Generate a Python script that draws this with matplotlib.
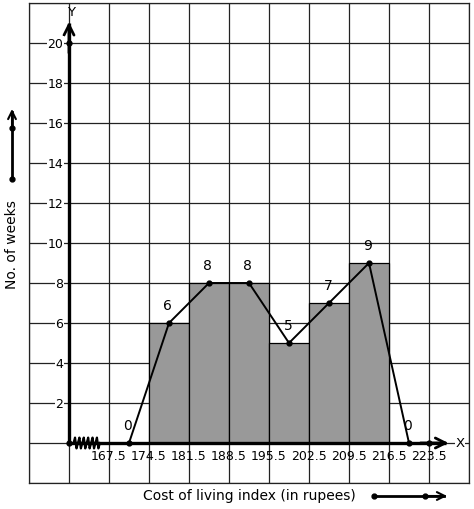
import matplotlib
matplotlib.use("Agg")
import matplotlib.pyplot as plt
import numpy as np

# class boundaries (rupees) and no. of weeks
bornes = [174.5, 181.5, 188.5, 195.5, 202.5, 209.5, 216.5]
semaines = [6, 8, 8, 5, 7, 9]

# frequency polygon, with the two empty classes at each end
milieux = [171, 178, 185, 192, 199, 206, 213, 220]
poly_y = [0, 6, 8, 8, 5, 7, 9, 0]

xtick_vals = [167.5, 174.5, 181.5, 188.5, 195.5, 202.5, 209.5, 216.5, 223.5]
xtick_labels = ["167.5", "174.5", "181.5", "188.5", "195.5", "202.5", "209.5", "216.5", "223.5"]
ytick_vals = [2, 4, 6, 8, 10, 12, 14, 16, 18, 20]

x0 = 160.5   # where the Y axis sits
pas = 7

fig = plt.figure(figsize=(4.74, 5.10), dpi=100)
ax = fig.add_axes([29 / 474, 26 / 510, 440 / 474, 480 / 510])
ax.set_xlim(x0 - pas, x0 + 10 * pas)
ax.set_ylim(-2, 22)

# grid
ax.set_xticks(np.arange(x0 - pas, x0 + 10.5 * pas, pas))
ax.set_yticks(np.arange(-2, 23, 2))
ax.grid(True, color="#222222", linewidth=0.9)
ax.tick_params(length=0, labelbottom=False, labelleft=False)
ax.set_axisbelow(True)
for s in ax.spines.values():
    s.set_color("#222222")
    s.set_linewidth(0.9)

# histogram
largeurs = np.diff(bornes)
ax.bar(bornes[:-1], semaines, width=largeurs, align="edge", color="#999999",
       edgecolor="black", linewidth=0.9, zorder=2)

# axes with arrows
ax.plot([x0, x0], [0, 21.0], color="black", lw=2.4, zorder=4, solid_capstyle="butt")
ax.plot([x0, 226.5], [0, 0], color="black", lw=2.4, zorder=4, solid_capstyle="butt")
ax.annotate("", xy=(x0, 21.05), xytext=(x0, 19.5),
            arrowprops=dict(arrowstyle="->", lw=2, color="black",
                            mutation_scale=18, shrinkA=0, shrinkB=0), zorder=4)
ax.annotate("", xy=(226.9, 0), xytext=(222, 0),
            arrowprops=dict(arrowstyle="->", lw=2, color="black",
                            mutation_scale=18, shrinkA=0, shrinkB=0), zorder=4)
ax.text(x0 + 0.3, 21.6, "Y", fontsize=9.5, ha="center", va="center")
ax.text(228.9, 0, "X", fontsize=9.5, ha="center", va="center",
        bbox=dict(facecolor="white", edgecolor="none", pad=0.5), zorder=6)
ax.plot([x0, x0, 223.5], [20, 0, 0], "o", color="black", markersize=3.5, zorder=5)

# kink on the x axis
zx = np.linspace(161.3, 165.9, 19)
zy = np.array([0, 0.27, -0.27] * 6 + [0])
ax.plot(zx, zy, color="black", lw=1.6, zorder=5)

# frequency polygon
ax.plot(milieux, poly_y, color="black", lw=1.4, marker="o", markersize=3.5, zorder=5)
for xm, ym in zip(milieux, poly_y):
    ax.text(xm - 0.2, ym + 0.9, str(ym), fontsize=10, ha="center", va="center")

# tick labels
for xv, lab in zip(xtick_vals, xtick_labels):
    ax.text(xv, -0.3, lab, fontsize=9, ha="center", va="top", zorder=6)
for yv in ytick_vals:
    ax.text(x0 - 1.0, yv, str(yv), fontsize=9, ha="right", va="center", zorder=6,
            bbox=dict(facecolor="white", edgecolor="none", pad=0.3))

# axis titles and outside arrows
fig.text(249 / 474, 14 / 510, "Cost of living index (in rupees)", fontsize=10,
         ha="center", va="center")
fig.text(12 / 474, 265 / 510, "No. of weeks", fontsize=10, rotation=90,
         ha="center", va="center")

fig.add_artist(plt.Line2D([12 / 474, 12 / 474], [330 / 510, 397 / 510],
                          color="black", lw=2, transform=fig.transFigure))
ax.annotate("", xy=(12, 400), xytext=(12, 380), xycoords="figure pixels",
            arrowprops=dict(arrowstyle="->", lw=1.5, color="black",
                            mutation_scale=14, shrinkA=0, shrinkB=0))
fig.add_artist(plt.Line2D([12 / 474, 12 / 474], [330 / 510, 381 / 510], marker="o",
                          linestyle="none", markersize=3.5, color="black",
                          transform=fig.transFigure))

fig.add_artist(plt.Line2D([374 / 474, 444 / 474], [13 / 510, 13 / 510],
                          color="black", lw=2, transform=fig.transFigure))
ax.annotate("", xy=(447, 13), xytext=(425, 13), xycoords="figure pixels",
            arrowprops=dict(arrowstyle="->", lw=1.5, color="black",
                            mutation_scale=14, shrinkA=0, shrinkB=0))
fig.add_artist(plt.Line2D([374 / 474, 425 / 474], [13 / 510, 13 / 510], marker="o",
                          linestyle="none", markersize=3.5, color="black",
                          transform=fig.transFigure))

fig.savefig("out.png", dpi=100)
